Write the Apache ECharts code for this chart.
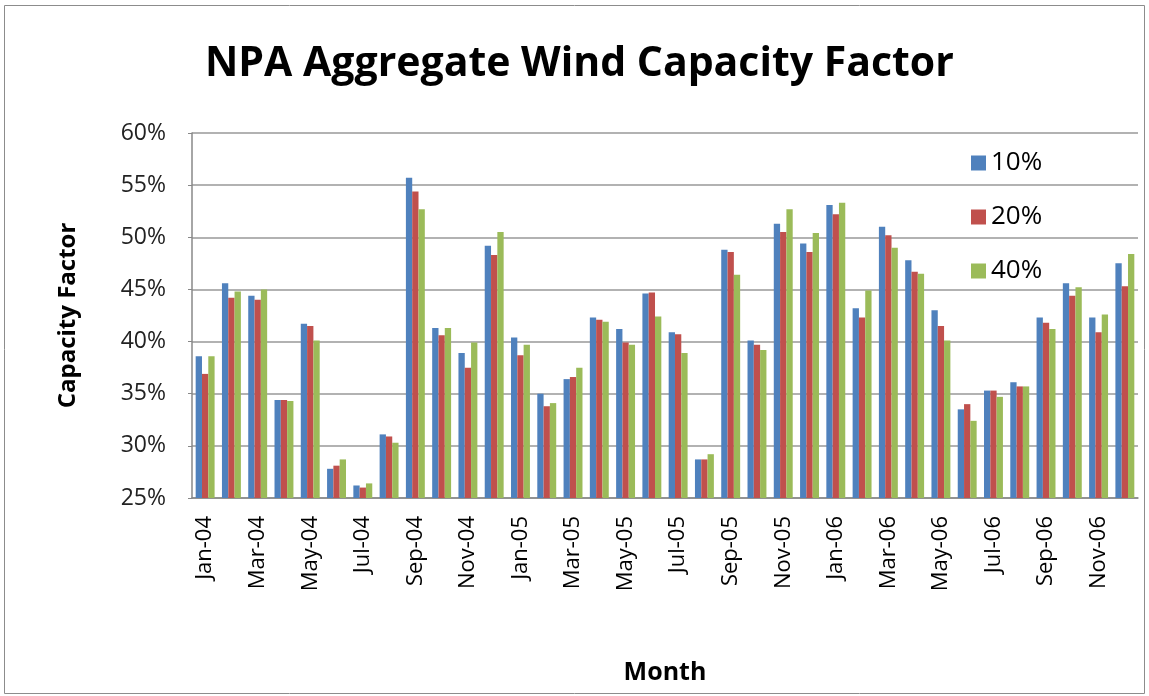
<!DOCTYPE html>
<html>
<head>
<meta charset="utf-8">
<script src="https://cdn.jsdelivr.net/npm/echarts@6/dist/echarts.min.js"></script>
<style>html,body{margin:0;padding:0;background:#fff}#c{width:1149px;height:696px}</style>
</head>
<body>
<div id="c"></div>
<script>
const months = ['Jan-04','Feb-04','Mar-04','Apr-04','May-04','Jun-04','Jul-04','Aug-04','Sep-04','Oct-04','Nov-04','Dec-04',
 'Jan-05','Feb-05','Mar-05','Apr-05','May-05','Jun-05','Jul-05','Aug-05','Sep-05','Oct-05','Nov-05','Dec-05',
 'Jan-06','Feb-06','Mar-06','Apr-06','May-06','Jun-06','Jul-06','Aug-06','Sep-06','Oct-06','Nov-06','Dec-06'];
const s10 = [38.6,45.6,44.4,34.4,41.7,27.8,26.2,31.1,55.7,41.3,38.9,49.2,
 40.4,35.0,36.4,42.3,41.2,44.6,40.9,28.7,48.8,40.1,51.3,49.4,
 53.1,43.2,51.0,47.8,43.0,33.5,35.3,36.1,42.3,45.6,42.3,47.5];
const s20 = [36.9,44.2,44.0,34.4,41.5,28.1,26.0,30.9,54.4,40.6,37.5,48.3,
 38.7,33.8,36.6,42.1,39.9,44.7,40.7,28.7,48.6,39.7,50.5,48.6,
 52.2,42.3,50.2,46.7,41.5,34.0,35.3,35.7,41.8,44.4,40.9,45.3];
const s40 = [38.6,44.8,45.0,34.3,40.1,28.7,26.4,30.3,52.7,41.3,39.9,50.5,
 39.7,34.1,37.5,41.9,39.7,42.4,38.9,29.2,46.4,39.2,52.7,50.4,
 53.3,44.9,49.0,46.5,40.1,32.4,34.7,35.7,41.2,45.2,42.6,48.4];
const seriesNames = ['10%','20%','40%'];
const yTicks = {min:25, max:60, interval:5};

const chart = echarts.init(document.getElementById('c'));
const font = '"Open Sans", sans-serif';
const mk = (name, data, color) => ({
  name, type:'bar', data, barGap:'0%', barCategoryGap:'28%',
  itemStyle:{color}, animation:false
});
chart.setOption({
  animation:false,
  graphic:[{type:'rect', shape:{x:4.5,y:5.5,width:1140,height:688}, style:{fill:'none', stroke:'#8c8c8c', lineWidth:1}, silent:true}],
  title:{text:'NPA Aggregate Wind Capacity Factor', left:200, top:39,
    textStyle:{fontFamily:font, fontWeight:'bold', fontSize:41, color:'#000'}},
  legend:{orient:'vertical', left:966, top:145, itemGap:28, itemWidth:15, itemHeight:15,
    icon:'rect', textStyle:{fontFamily:font, fontSize:26, color:'#000'}, data:seriesNames},
  grid:{left:192, right:11, top:133, bottom:198, containLabel:false},
  xAxis:{type:'category', data:months, name:'Month', nameLocation:'middle', nameGap:162,
    nameTextStyle:{fontFamily:font, fontWeight:'bold', fontSize:25, color:'#000'},
    axisLine:{lineStyle:{color:'#888', width:1.5}}, axisTick:{show:false},
    axisLabel:{interval:1, rotate:90, margin:18, fontFamily:font, fontSize:22, color:'#000'}},
  yAxis:{type:'value', min:yTicks.min, max:yTicks.max, interval:yTicks.interval,
    name:'Capacity Factor', nameLocation:'middle', nameGap:112, nameRotate:90,
    nameTextStyle:{fontFamily:font, fontWeight:'bold', fontSize:24, color:'#000'},
    axisLine:{show:true, lineStyle:{color:'#888', width:1.5}},
    axisTick:{show:true, length:4, lineStyle:{color:'#888'}},
    axisLabel:{margin:26, fontFamily:font, fontSize:23, color:'#222', formatter:v=>v+'%'},
    splitLine:{lineStyle:{color:'#999', width:1.5}}},
  series:[mk(seriesNames[0], s10, '#4F81BD'), mk(seriesNames[1], s20, '#C0504D'), mk(seriesNames[2], s40, '#9BBB59')]
});
</script>
</body>
</html>
